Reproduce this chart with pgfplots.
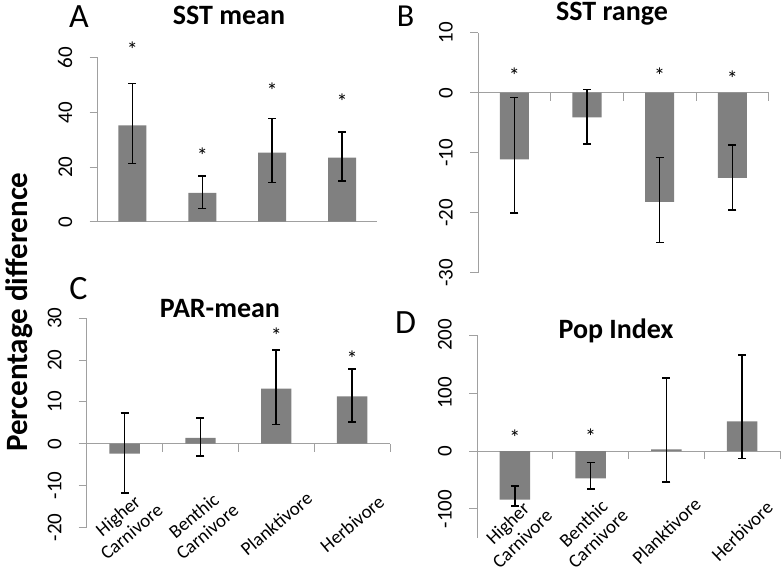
\documentclass[border=0pt]{standalone}
\usepackage{pgfplots}
\pgfplotsset{compat=1.18}
\usepackage{fontspec}
\setmainfont{Carlito}
\definecolor{barg}{RGB}{128,128,128}
\definecolor{axisg}{RGB}{160,160,160}

\pgfplotsset{
  panel/.style={
    scale only axis, clip=false,
    axis x line=middle, axis y line=left,
    axis line style={-, draw=axisg, line width=1pt},
    hide obscured x ticks=false, hide obscured y ticks=false,
    xmin=0.5, xmax=4.5,
    xtick={1,2,3,4},
    tick align=outside, major tick length=8pt,
    xtick style={draw=none},
    ytick style={draw=axisg, line width=1pt},
    extra x ticks={1.5,2.5,3.5,4.5}, extra x tick labels={},
    extra x tick style={xtick style={draw=axisg, line width=1pt}},
    yticklabel style={rotate=90, anchor=south, inner sep=0pt},
    yticklabel shift=17pt,
    tick label style={font=\fontsize{21}{25}\selectfont},
    /pgf/number format/assume math mode=true,
  },
  bars/.style={
    ybar, bar width=0.4, bar shift=0pt, fill=barg, draw=none,
    error bars/y dir=both, error bars/y explicit,
    error bars/error bar style={black, line width=1.6pt},
    error bars/error mark options={black, line width=1.6pt, mark size=4pt, rotate=90},
  },
  stars/.style={
    only marks, mark=none, nodes near coords={*},
    every node near coord/.append style={anchor=center, black,
      font=\fontsize{22}{22}\selectfont, yshift=-3pt},
  },
  cats/.style={
    xticklabels={{Higher\\Carnivore},{Benthic\\Carnivore},Planktivore,Herbivore},
    xticklabel style={anchor=center, align=center, rotate=#1,
      font=\fontsize{19}{21}\selectfont},
    xticklabel shift=72pt,
  },
  nocats/.style={xticklabels={}},
}

\begin{document}
\begin{tikzpicture}
\path[use as bounding box] (0,0) rectangle (784pt,578pt);

% A: SST mean
\begin{axis}[panel, nocats, at={(97.5pt,356.3pt)}, width=279.5pt, height=163.7pt,
  ymin=0, ymax=60, ytick={0,20,40,60}, extra x ticks={}]
  \addplot[bars] coordinates {
    (1,35.3) += (0,15.4) -= (0,13.9)
    (2,10.6) += (0,6.2) -= (0,5.7)
    (3,25.3) += (0,12.5) -= (0,10.9)
    (4,23.5) += (0,9.4) -= (0,8.6)
  };
  \addplot[stars] coordinates {(1,64) (2,25.4) (3,49.1) (4,45)};
\end{axis}

% B: SST range
\begin{axis}[panel, nocats, at={(478pt,305.3pt)}, width=290.7pt, height=240pt,
  ymin=-30, ymax=10, ytick={-30,-20,-10,0,10}]
  \addplot[bars] coordinates {
    (1,-11.1) += (0,10.3) -= (0,9.0)
    (2,-4.1) += (0,4.6) -= (0,4.5)
    (3,-18.2) += (0,7.4) -= (0,6.8)
    (4,-14.2) += (0,5.5) -= (0,5.4)
  };
  \addplot[stars] coordinates {(1,3.4) (3,3.4) (4,2.9)};
\end{axis}

% C: PAR-mean
\begin{axis}[panel, cats=40, at={(86.7pt,50.7pt)}, width=303.3pt, height=209pt,
  ymin=-20, ymax=30, ytick={-20,-10,0,10,20,30}]
  \addplot[bars] coordinates {
    (1,-2.4) += (0,9.8) -= (0,9.4)
    (2,1.4) += (0,4.8) -= (0,4.4)
    (3,13.2) += (0,9.2) -= (0,8.6)
    (4,11.3) += (0,6.5) -= (0,6.1)
  };
  \addplot[stars] coordinates {(3,26.6) (4,21.0)};
\end{axis}

% D: Pop Index
\begin{axis}[panel, cats=44, at={(477pt,40pt)}, width=303pt, height=203pt,
  ymin=-150, ymax=200, ytick={-100,0,100,200}]
  \addplot[bars] coordinates {
    (1,-84) += (0,24) -= (0,11)
    (2,-47) += (0,27) -= (0,18)
    (3,3) += (0,123) -= (0,56)
    (4,51) += (0,115) -= (0,64)
  };
  \addplot[stars] coordinates {(1,27.6) (2,30.5)};
\end{axis}

\begin{scope}[every node/.style={anchor=base}]
  \node[font=\bfseries\fontsize{28}{28}\selectfont] at (229pt,553pt) {SST mean};
  \node[font=\bfseries\fontsize{28}{28}\selectfont] at (612pt,557.3pt) {SST range};
  \node[font=\bfseries\fontsize{28}{28}\selectfont] at (220pt,260.7pt) {PAR-mean};
  \node[font=\bfseries\fontsize{28}{28}\selectfont] at (616pt,239pt) {Pop Index};
  \node[font=\fontsize{34}{34}\selectfont] at (79pt,550pt) {A};
  \node[font=\fontsize{32}{32}\selectfont] at (405.5pt,551pt) {B};
  \node[font=\fontsize{34}{34}\selectfont] at (78.5pt,278pt) {C};
  \node[font=\fontsize{34}{34}\selectfont] at (405.5pt,244pt) {D};
\end{scope}
\node[rotate=90, font=\bfseries\fontsize{31}{31}\selectfont] at (19.5pt,266pt) {Percentage difference};
\end{tikzpicture}
\end{document}
